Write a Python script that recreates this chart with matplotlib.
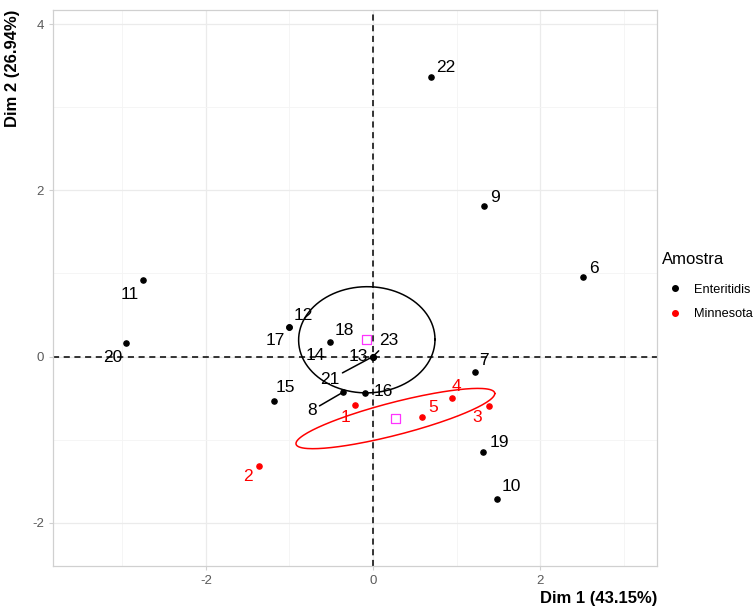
import numpy as np
import matplotlib.pyplot as plt
from matplotlib.lines import Line2D

plt.rcParams['font.family'] = ['Liberation Sans', 'DejaVu Sans']
plt.rcParams['axes.unicode_minus'] = False

# Individuals on the first two PCA dimensions
ids = [str(i) for i in range(1, 24)]
groups = ['Minnesota'] * 5 + ['Enteritidis'] * 18
dim1 = [-0.21, -1.37, 1.39, 0.94, 0.59, 2.51, 1.22, -0.36, 1.33, 1.48, -2.75, -1.01,
        0.0, 0.0, -1.18, -0.10, -1.01, -0.51, 1.32, -2.96, 0.0, 0.69, 0.0]
dim2 = [-0.58, -1.32, -0.60, -0.50, -0.73, 0.96, -0.19, -0.43, 1.81, -1.71, 0.92, 0.35,
        0.0, 0.0, -0.53, -0.44, 0.35, 0.17, -1.15, 0.16, 0.0, 3.36, 0.0]
group_names = ['Enteritidis', 'Minnesota']
group_colors = {'Enteritidis': 'black', 'Minnesota': '#FF0000'}

# label nudges (pixels right, pixels down) as placed by the repel step
nudges = {'1': (-10, 13), '2': (-11, 10), '3': (-12, 11), '4': (5, -12), '5': (11, -10),
          '6': (11, -8), '7': (9, -12), '8': (-31, 18), '9': (11, -9), '10': (15, -12),
          '11': (-13, 14), '12': (15, -12), '13': (-15, 0), '14': (-58, -1),
          '15': (11, -13), '16': (19, -2), '17': (-13, 13), '18': (14, -12),
          '19': (16, -10), '20': (-13, 14), '21': (-43, 23), '22': (15, -10),
          '23': (16, -16)}
with_segment = {'8', '21', '23'}

x = np.array(dim1)
y = np.array(dim2)
g = np.array(groups)

fig = plt.figure(figsize=(7.56, 6.08), dpi=100)
ax = fig.add_axes([0.0701, 0.0691, 0.799, 0.9145])
ax.set_xlim(-3.83, 3.40)
ax.set_ylim(-2.52, 4.17)

ax.set_xticks([-2, 0, 2])
ax.set_yticks([-2, 0, 2, 4])
ax.set_xticks([-3, -1, 1, 3], minor=True)
ax.set_yticks([-1, 1, 3], minor=True)
ax.grid(which='major', color='#EBEBEB', lw=0.9)
ax.grid(which='minor', color='#F4F4F4', lw=0.6)
ax.set_axisbelow(True)
for s in ax.spines.values():
    s.set_color('#D0D0D0')
    s.set_linewidth(0.9)
ax.tick_params(which='major', colors='#D0D0D0', labelcolor='#5A5A5A', labelsize=9.5, length=3)
ax.tick_params(which='minor', length=0)

ax.axhline(0, color='black', lw=1.1, ls=(0, (4, 3)), zorder=1)
ax.axvline(0, color='black', lw=1.1, ls=(0, (4, 3)), zorder=1)

# 95% confidence ellipses around each group mean
t = np.sqrt(-2 * np.log(0.05))
theta = np.linspace(0, 2 * np.pi, 200)
for name in group_names:
    pts = np.column_stack([x[g == name], y[g == name]])
    centre = pts.mean(axis=0)
    cov = np.cov(pts.T) / len(pts)
    L = np.linalg.cholesky(cov)
    ell = centre[:, None] + t * L @ np.vstack([np.cos(theta), np.sin(theta)])
    ax.plot(ell[0], ell[1], color=group_colors[name], lw=1.1, zorder=2)
    ax.scatter(centre[0], centre[1], marker='s', s=45, facecolor='none',
               edgecolor='#FF33FF', lw=0.9, zorder=3)

for name in group_names:
    m = g == name
    ax.scatter(x[m], y[m], s=14, color=group_colors[name], zorder=4)

for i, lab in enumerate(ids):
    dx, dy = nudges[lab]
    props = None
    if lab in with_segment:
        props = dict(arrowstyle='-', color=group_colors[groups[i]], lw=1.1,
                     shrinkA=0, shrinkB=1)
    ax.annotate(lab, (x[i], y[i]), xytext=(dx * 0.72, -dy * 0.72),
                textcoords='offset points', ha='center', va='center',
                fontsize=12.5, color=group_colors[groups[i]],
                arrowprops=props, zorder=5)

ax.set_xlabel('Dim 1 (43.15%)', loc='right', fontsize=12, fontweight='bold')
ax.xaxis.set_label_coords(1.0, -0.0576)
ax.xaxis.label.set_va('center')
ax.set_ylabel('Dim 2 (26.94%)', loc='top', fontsize=12, fontweight='bold')
ax.yaxis.set_label_coords(-0.0546, 1.0)

fig.text(662 / 756, 1 - 259 / 608, 'Amostra', ha='left', va='center', fontsize=12)
handles = [Line2D([], [], marker='o', ls='none', markersize=4,
                  color=group_colors[n], label=n) for n in group_names]
fig.legend(handles=handles, loc='center left', bbox_to_anchor=(657 / 756, 1 - 302 / 608),
           frameon=False, fontsize=9.2, handletextpad=1.0, labelspacing=0.95,
           handlelength=1.0, borderpad=0.4)

fig.savefig('out.png', dpi=100)
